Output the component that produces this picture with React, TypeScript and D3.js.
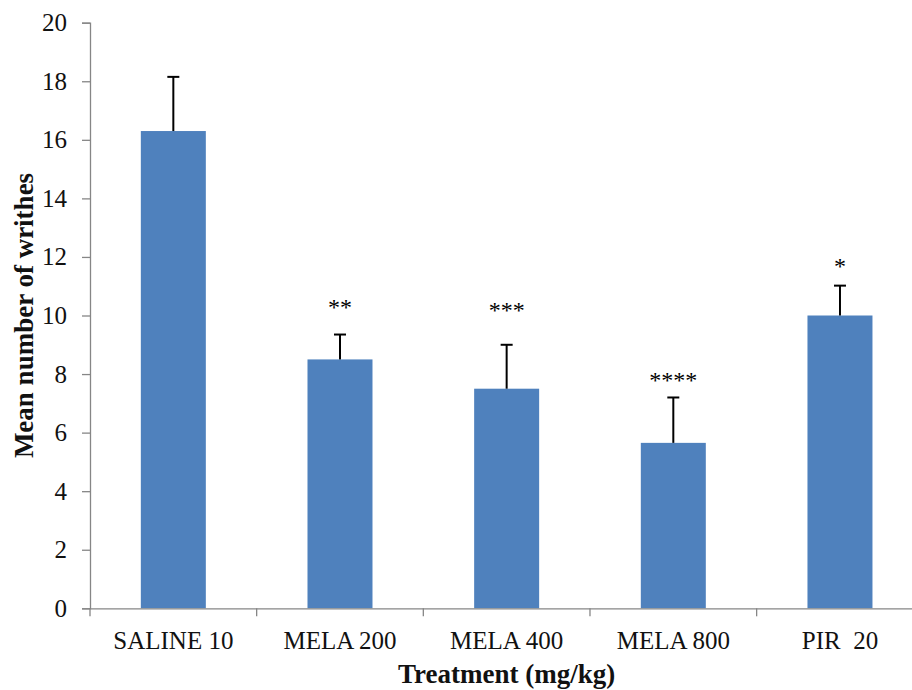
import React, { useEffect, useRef } from 'react';
import * as d3 from 'd3';

const treatments = ['SALINE 10', 'MELA 200', 'MELA 400', 'MELA 800', 'PIR  20'];
const meanWrithes = [16.3, 8.5, 7.5, 5.65, 10.0];
const errors = [1.85, 0.85, 1.5, 1.55, 1.02];
const stars = ['', '**', '***', '****', '*'];
const starLevel = [0, 10.4, 10.3, 7.9, 11.8];
const yTicks = [0, 2, 4, 6, 8, 10, 12, 14, 16, 18, 20];

const SERIF = "'Liberation Serif', 'Times New Roman', Times, serif";

export default function App() {
  const ref = useRef<SVGSVGElement>(null);

  useEffect(() => {
    const width = 912;
    const height = 690;
    const margin = { top: 22.7, right: -11.3, bottom: 81.7, left: 90 };

    const svg = d3.select(ref.current);
    svg.selectAll('*').remove();

    const x = d3
      .scaleBand()
      .domain(treatments)
      .range([margin.left, width - margin.right])
      .paddingInner(0.61)
      .paddingOuter(0.305);

    const y = d3
      .scaleLinear()
      .domain([0, 20])
      .range([height - margin.bottom, margin.top]);

    const band = d3.scaleBand().domain(treatments).range([margin.left, width - margin.right]);

    // bars
    svg
      .append('g')
      .selectAll('rect')
      .data(treatments)
      .join('rect')
      .attr('x', (d) => x(d)!)
      .attr('y', (d, i) => y(meanWrithes[i]))
      .attr('width', x.bandwidth())
      .attr('height', (d, i) => y(0) - y(meanWrithes[i]))
      .attr('fill', '#4f81bd');

    // error bars + significance stars
    const eb = svg.append('g').attr('stroke', '#000').attr('stroke-width', 2);
    treatments.forEach((t, i) => {
      const cx = x(t)! + x.bandwidth() / 2;
      eb.append('line')
        .attr('x1', cx).attr('x2', cx)
        .attr('y1', y(meanWrithes[i]))
        .attr('y2', y(meanWrithes[i] + errors[i]));
      eb.append('line')
        .attr('x1', cx - 6).attr('x2', cx + 6)
        .attr('y1', y(meanWrithes[i] + errors[i]))
        .attr('y2', y(meanWrithes[i] + errors[i]));
      if (stars[i]) {
        svg.append('text')
          .attr('x', cx)
          .attr('y', y(starLevel[i]) + 11)
          .attr('text-anchor', 'middle')
          .style('font-family', SERIF)
          .style('font-size', '24px')
          .attr('fill', '#000')
          .text(stars[i]);
      }
    });

    // y axis
    const yAxis = svg
      .append('g')
      .attr('transform', `translate(${margin.left},0)`)
      .call(d3.axisLeft(y).tickValues(yTicks).tickSize(8).tickPadding(15).tickSizeOuter(8));
    yAxis.select('.domain').attr('stroke', '#868686').attr('stroke-width', 1.3);
    yAxis.selectAll('.tick line').attr('stroke', '#868686').attr('stroke-width', 1.3);
    yAxis.selectAll('.tick text')
      .style('font-family', SERIF)
      .style('font-size', '25px')
      .attr('fill', '#111');

    // x axis
    const xAxis = svg
      .append('g')
      .attr('transform', `translate(0,${y(0)})`)
      .call(d3.axisBottom(band).tickSize(0).tickPadding(23).tickSizeOuter(0));
    xAxis.select('.domain').attr('stroke', '#868686').attr('stroke-width', 1.3);
    xAxis.selectAll('.tick text')
      .style('font-family', SERIF)
      .style('font-size', '25px')
      .style('white-space', 'pre')
      .attr('fill', '#111');
    xAxis
      .selectAll('line.sep')
      .data(d3.range(treatments.length + 1))
      .join('line')
      .attr('class', 'sep')
      .attr('x1', (i) => margin.left + i * band.step())
      .attr('x2', (i) => margin.left + i * band.step())
      .attr('y1', 0)
      .attr('y2', 8)
      .attr('stroke', '#868686')
      .attr('stroke-width', 1.3);

    svg
      .append('text')
      .attr('x', (margin.left + width - margin.right) / 2)
      .attr('y', 683)
      .attr('text-anchor', 'middle')
      .style('font-family', SERIF)
      .style('font-weight', 'bold')
      .style('font-size', '27px')
      .attr('fill', '#111')
      .text('Treatment (mg/kg)');

    svg
      .append('text')
      .attr('transform', 'rotate(-90)')
      .attr('x', -(margin.top + height - margin.bottom) / 2)
      .attr('y', 33)
      .attr('text-anchor', 'middle')
      .style('font-family', SERIF)
      .style('font-weight', 'bold')
      .style('font-size', '27px')
      .attr('fill', '#111')
      .text('Mean number of writhes');
  }, []);

  return (
    <svg
      ref={ref}
      width={912}
      height={690}
      style={{ position: 'absolute', left: 0, top: 0, background: '#fff' }}
    />
  );
}
